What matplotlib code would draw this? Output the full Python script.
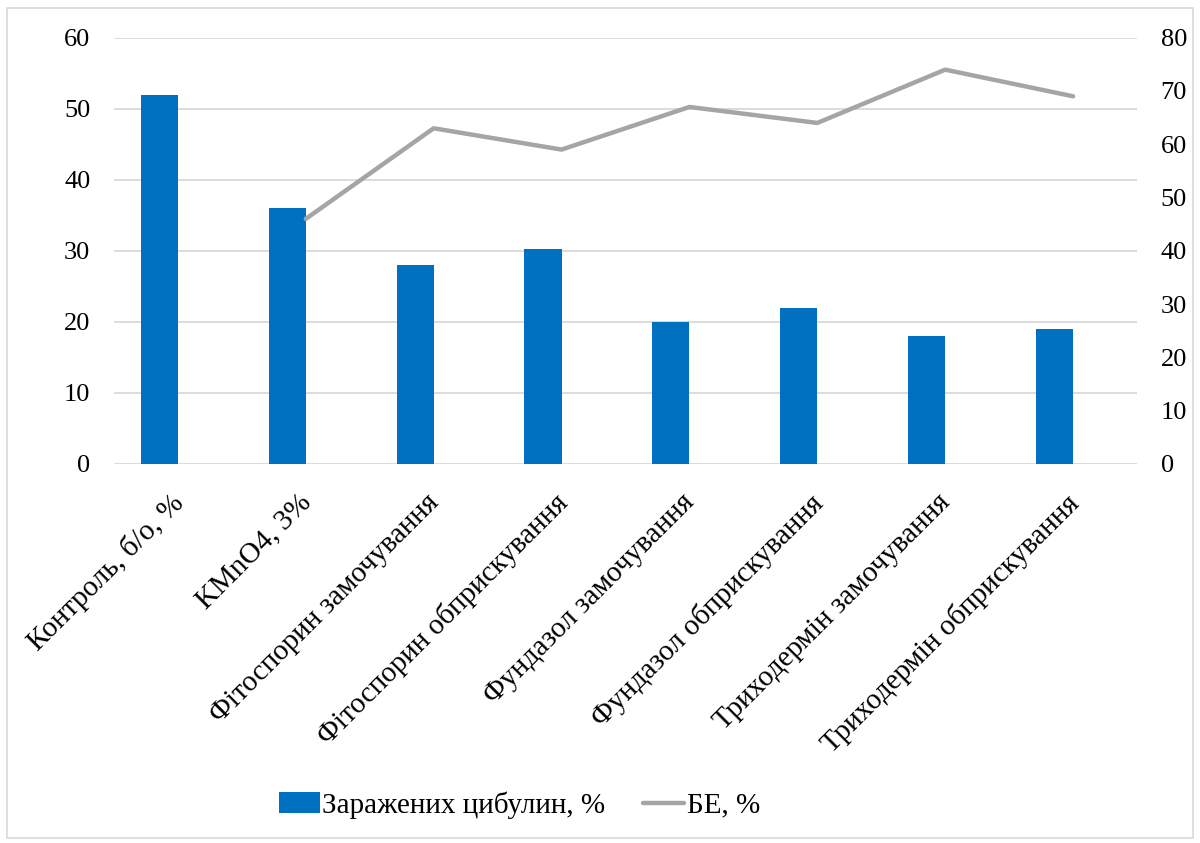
import matplotlib
matplotlib.use("Agg")
import matplotlib.pyplot as plt
import matplotlib.transforms as mtransforms
import numpy as np
from matplotlib.patches import Rectangle

# ── Data ──────────────────────────────────────────────────────────────────────
categories = [
    "Контроль, б/о, %",
    "KMnO4, 3%",
    "Фітоспорин замочування",
    "Фітоспорин обприскування",
    "Фундазол замочування",
    "Фундазол обприскування",
    "Триходермін замочування",
    "Триходермін обприскування",
]
infected = [52, 36, 28, 30.3, 20, 22, 18, 19]          # Заражених цибулин, %
be = [np.nan, 46, 63, 59, 67, 64, 74, 69]              # БЕ, %

left_ticks = [0, 10, 20, 30, 40, 50, 60]
right_ticks = [0, 10, 20, 30, 40, 50, 60, 70, 80]

BAR_COLOR = "#0070C0"
LINE_COLOR = "#A5A5A5"
GRID_COLOR = "#D9D9D9"

plt.rcParams["font.family"] = ["Liberation Serif", "DejaVu Serif"]

fig = plt.figure(figsize=(12, 8.43), dpi=100)
ax = fig.add_axes([0.095, 0.4496, 0.8525, 0.5057])

x = np.arange(len(categories))
# bars sit left of the category centre (Excel cluster with an empty slot)
bars = ax.bar(x - 0.145, infected, width=0.29, color=BAR_COLOR, zorder=2,
              label="Заражених цибулин, %")

ax.set_xlim(-0.5, len(categories) - 0.5)
ax.set_ylim(0, 60)
ax.set_yticks(left_ticks)
ax.yaxis.grid(True, color=GRID_COLOR, linewidth=1.3, zorder=0)
ax.set_axisbelow(True)
for s in ax.spines.values():
    s.set_visible(False)
ax.tick_params(axis="y", length=0, pad=17, labelsize=19)
ax.tick_params(axis="x", length=0, pad=4)
ax.set_xticks(x)
ax.set_xticklabels(categories, rotation=45, ha="right", va="top",
                   rotation_mode="anchor", fontsize=21)
shift = mtransforms.ScaledTranslation(-8 / 100, -20 / 100, fig.dpi_scale_trans)
for lbl in ax.get_xticklabels():
    lbl.set_transform(lbl.get_transform() + shift)

ax2 = ax.twinx()
line, = ax2.plot(x, be, color=LINE_COLOR, linewidth=3.2,
                 solid_capstyle="round", zorder=3, label="БЕ, %")
ax2.set_ylim(0, 80)
ax2.set_yticks(right_ticks)
for s in ax2.spines.values():
    s.set_visible(False)
ax2.tick_params(axis="y", length=0, pad=17, labelsize=19)

fig.legend([bars, line], ["Заражених цибулин, %", "БЕ, %"],
           loc="center", bbox_to_anchor=(0.433, 0.045), ncol=2,
           frameon=False, fontsize=21, handlelength=1.4, handletextpad=0.1,
           columnspacing=1.3)

# light frame round the chart area
fig.patches.append(Rectangle((0.006, 0.006), 0.988, 0.985,
                             transform=fig.transFigure, fill=False,
                             edgecolor="#D9D9D9", linewidth=1.2))

fig.savefig("out.png", dpi=100)
